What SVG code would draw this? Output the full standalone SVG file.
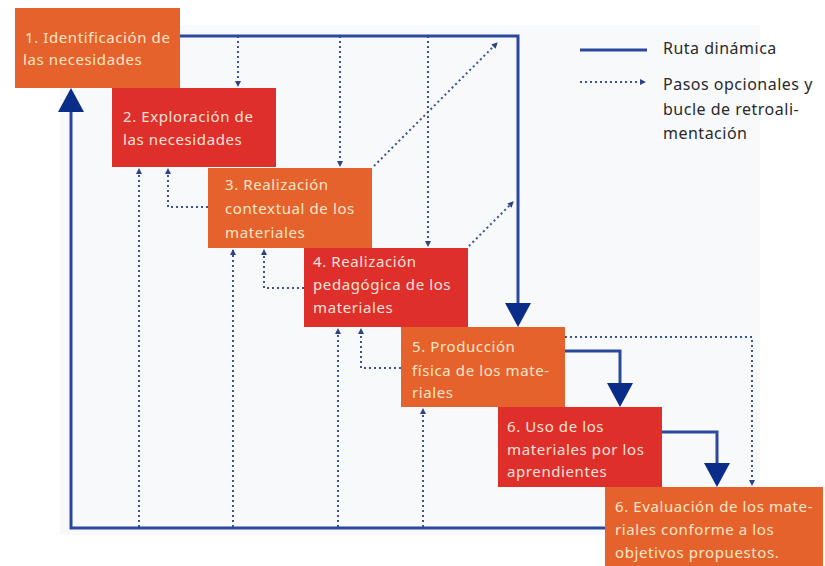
<svg xmlns="http://www.w3.org/2000/svg" width="825" height="566" viewBox="0 0 825 566">
<style>
.orange{fill:#E6622D}
.red{fill:#DE2F2B}
.t{font-family:"Noto Sans","Liberation Sans",sans-serif;font-size:15px;letter-spacing:0.6px}
.to{fill:#FCE6C6}
.tr{fill:#FBE1DA}
.solid{fill:none;stroke:#2A489E;stroke-width:3}
.dot{fill:none;stroke:#3D5291;stroke-width:2;stroke-dasharray:2 3}
.leg{font-family:"Noto Sans","Liberation Sans",sans-serif;font-size:16px;letter-spacing:0.5px;fill:#2a2a2a}
</style>
<defs>
<marker id="big" viewBox="0 0 24 26" refX="20" refY="13" markerWidth="24" markerHeight="26" markerUnits="userSpaceOnUse" orient="auto">
<path d="M0,0 L24,13 L0,26 z" fill="#0B2D8A"/>
</marker>
<marker id="small" viewBox="0 0 6 6" refX="5" refY="3" markerWidth="6" markerHeight="6" markerUnits="userSpaceOnUse" orient="auto">
<path d="M0,0 L6,3 L0,6 z" fill="#2E4285"/>
</marker>
</defs>
<rect x="0" y="0" width="825" height="566" fill="#ffffff"/>
<rect x="60" y="25" width="700" height="510" fill="#F8F9FA"/>
<g id="connectors">
<path class="dot" d="M238,36 V86" marker-end="url(#small)"/>
<path class="dot" d="M340,36 V166" marker-end="url(#small)"/>
<path class="dot" d="M428,36 V246" marker-end="url(#small)"/>
<path class="dot" d="M374,166 L497,43" marker-end="url(#small)"/>
<path class="dot" d="M469,246 L513,202" marker-end="url(#small)"/>
<path class="dot" d="M565,337 H752 V485" marker-end="url(#small)"/>
<path class="dot" d="M139,527 V169" marker-end="url(#small)"/>
<path class="dot" d="M233,527 V250" marker-end="url(#small)"/>
<path class="dot" d="M338,527 V329" marker-end="url(#small)"/>
<path class="dot" d="M423,527 V409" marker-end="url(#small)"/>
<path class="dot" d="M208,207 H168 V169" marker-end="url(#small)"/>
<path class="dot" d="M304,288 H264 V250" marker-end="url(#small)"/>
<path class="dot" d="M401,368 H361 V329" marker-end="url(#small)"/>
<path class="solid" d="M180,36 H518 V323" marker-end="url(#big)"/>
<path class="solid" d="M565,351 H620 V403" marker-end="url(#big)"/>
<path class="solid" d="M662,432 H717 V483" marker-end="url(#big)"/>
<path class="solid" d="M605,528 H71 V92" marker-end="url(#big)"/>
</g>
<g id="n1">
<rect class="orange" x="15" y="8" width="165" height="80"/>
<text class="t to" x="25" y="43">1. Identificación de</text>
<text class="t to" x="23" y="65">las necesidades</text>
</g>
<g id="n2">
<rect class="red" x="112" y="88" width="164" height="79"/>
<text class="t tr" x="123" y="122">2. Exploración de</text>
<text class="t tr" x="123" y="145">las necesidades</text>
</g>
<g id="n3">
<rect class="orange" x="208" y="168" width="164" height="80"/>
<text class="t to" x="225" y="190">3. Realización</text>
<text class="t to" x="225" y="214">contextual de los</text>
<text class="t to" x="225" y="238">materiales</text>
</g>
<g id="n4">
<rect class="red" x="304" y="248" width="164" height="79"/>
<text class="t tr" x="313" y="267">4. Realización</text>
<text class="t tr" x="313" y="290">pedagógica de los</text>
<text class="t tr" x="313" y="313">materiales</text>
</g>
<g id="n5">
<rect class="orange" x="401" y="327" width="164" height="80"/>
<text class="t to" x="412" y="352">5. Producción</text>
<text class="t to" x="412" y="376">física de los mate-</text>
<text class="t to" x="412" y="398">riales</text>
</g>
<g id="n6">
<rect class="red" x="498" y="407" width="164" height="80"/>
<text class="t tr" x="507" y="432">6. Uso de los</text>
<text class="t tr" x="507" y="455">materiales por los</text>
<text class="t tr" x="507" y="477">aprendientes</text>
</g>
<g id="n7">
<rect class="orange" x="605" y="487" width="218" height="79"/>
<text class="t to" x="615" y="512">6. Evaluación de los mate-</text>
<text class="t to" x="615" y="535">riales conforme a los</text>
<text class="t to" x="615" y="558">objetivos propuestos.</text>
</g>
<g id="legend">
<line x1="580" y1="50" x2="647" y2="50" stroke="#2A489E" stroke-width="3"/>
<path class="dot" d="M580,82 H645" marker-end="url(#small)"/>
<text class="leg" x="663" y="54">Ruta dinámica</text>
<text class="leg" x="663" y="90">Pasos opcionales y</text>
<text class="leg" x="663" y="115">bucle de retroali-</text>
<text class="leg" x="663" y="139">mentación</text>
</g>
</svg>
